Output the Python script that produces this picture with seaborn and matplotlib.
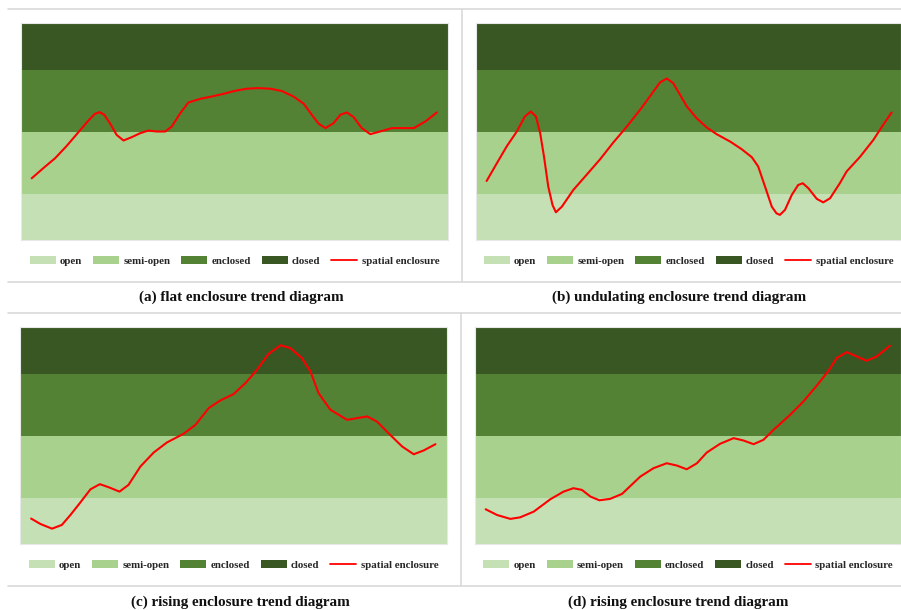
import matplotlib
matplotlib.use("Agg")
import matplotlib.pyplot as plt
from matplotlib.patches import Patch
from matplotlib.lines import Line2D
import seaborn as sns

# ---------------------------------------------------------
# 1. DATA (position along route in %, enclosure score 0-14)
# ---------------------------------------------------------
band_names = ['open', 'semi-open', 'enclosed', 'closed']
band_low = [0, 3, 7, 11]
band_high = [3, 7, 11, 14]
band_colors = ['#c5e0b4', '#a9d18e', '#548235', '#385723']

captions = ['(a) flat enclosure trend diagram',
            '(b) undulating enclosure trend diagram',
            '(c) rising enclosure trend diagram',
            '(d) rising enclosure trend diagram']

pos_a = [2.5, 5.2, 8.0, 10.7, 13.4, 15.8, 17.3, 18.4, 19.5, 20.9, 22.4, 24.0,
         25.9, 27.9, 29.8, 31.8, 33.8, 35.3, 37.3, 39.2, 42.0, 44.7, 47.4, 50.2,
         52.9, 55.6, 58.4, 61.1, 63.8, 66.2, 68.1, 69.7, 71.3, 73.2, 74.8, 76.3,
         77.9, 79.8, 81.8, 84.1, 86.9, 89.6, 92.0, 94.7, 97.4]
enc_a = [3.98, 4.63, 5.28, 6.07, 6.94, 7.71, 8.14, 8.25, 8.08, 7.50, 6.78, 6.42,
         6.63, 6.89, 7.06, 7.00, 7.00, 7.32, 8.18, 8.87, 9.11, 9.26, 9.43, 9.63,
         9.76, 9.80, 9.76, 9.61, 9.26, 8.79, 8.08, 7.50, 7.22, 7.54, 8.08, 8.23,
         7.93, 7.22, 6.83, 7.00, 7.22, 7.22, 7.22, 7.65, 8.23]

pos_b = [2.5, 4.9, 7.2, 9.6, 11.5, 12.9, 14.1, 15.1, 16.0, 17.0, 18.0, 18.8,
         20.2, 22.9, 26.0, 29.2, 32.3, 35.5, 38.6, 40.9, 43.3, 44.9, 46.4, 48.0,
         49.6, 51.9, 54.3, 56.6, 59.8, 62.5, 64.9, 66.4, 68.0, 69.6, 70.7, 71.5,
         72.7, 74.3, 75.8, 76.9, 78.2, 80.2, 81.7, 83.3, 85.6, 87.2, 90.4, 93.5,
         95.8, 97.8]
enc_b = [3.81, 4.95, 6.03, 7.00, 7.97, 8.29, 7.97, 6.89, 5.38, 3.45, 2.26, 1.79,
         2.15, 3.23, 4.20, 5.21, 6.29, 7.32, 8.40, 9.26, 10.17, 10.42, 10.12, 9.37,
         8.62, 7.86, 7.26, 6.83, 6.35, 5.86, 5.34, 4.74, 3.45, 2.15, 1.72, 1.62,
         1.94, 2.91, 3.55, 3.66, 3.34, 2.65, 2.43, 2.69, 3.66, 4.42, 5.38, 6.46,
         7.43, 8.23]

pos_c = [2.6, 4.8, 7.5, 9.8, 11.8, 14.1, 16.5, 18.7, 20.8, 23.3, 25.4, 28.2,
         31.3, 34.4, 38.3, 41.1, 44.2, 46.9, 50.0, 52.8, 55.5, 58.2, 61.0, 63.3,
         66.0, 68.0, 69.9, 72.7, 76.6, 78.9, 81.3, 83.6, 86.7, 89.5, 92.2, 94.5,
         97.3]
enc_c = [1.64, 1.29, 0.99, 1.23, 1.87, 2.67, 3.53, 3.86, 3.66, 3.38, 3.81, 5.00,
         5.90, 6.55, 7.11, 7.69, 8.77, 9.26, 9.67, 10.38, 11.24, 12.26, 12.82, 12.64,
         12.00, 11.14, 9.74, 8.66, 8.01, 8.12, 8.23, 7.90, 7.04, 6.29, 5.79, 6.03,
         6.44]

pos_d = [2.5, 5.2, 8.3, 10.6, 13.8, 17.7, 20.8, 23.1, 25.1, 27.1, 29.2, 31.7,
         34.5, 38.8, 41.9, 45.0, 47.4, 49.7, 52.1, 54.4, 57.5, 60.7, 63.0, 65.4,
         67.7, 70.1, 74.0, 77.1, 80.2, 83.0, 84.9, 87.3, 89.6, 91.9, 94.3, 97.4]
enc_d = [2.24, 1.87, 1.62, 1.72, 2.09, 2.89, 3.38, 3.60, 3.49, 3.06, 2.82, 2.91,
         3.23, 4.35, 4.89, 5.21, 5.06, 4.82, 5.21, 5.90, 6.46, 6.83, 6.68, 6.44,
         6.72, 7.37, 8.34, 9.20, 10.21, 11.18, 12.00, 12.38, 12.10, 11.82, 12.10,
         12.79]

positions = [pos_a, pos_b, pos_c, pos_d]
enclosure = [enc_a, enc_b, enc_c, enc_d]

# ---------------------------------------------------------
# 2. LAYOUT (pixel boxes of each plot area: left, top, right, bottom)
# ---------------------------------------------------------
W, H = 901, 610
boxes = [(21, 23, 448, 240), (476, 23, 901, 240),
         (20, 327, 447, 544), (475, 327, 901, 544)]
caption_xy = [(241, 297), (679, 297), (240, 602), (678, 602)]

sns.set_theme(style='white')
plt.rcParams['font.family'] = ['Liberation Serif', 'DejaVu Serif']
plt.rcParams['font.weight'] = 'bold'

fig = plt.figure(figsize=(W / 100, H / 100), dpi=100)

for i in range(4):
    l, t, r, b = boxes[i]
    ax = fig.add_axes([l / W, 1 - b / H, (r - l) / W, (b - t) / H])
    for name, lo, hi, c in zip(band_names, band_low, band_high, band_colors):
        ax.axhspan(lo, hi, color=c, lw=0)
    sns.lineplot(x=positions[i], y=enclosure[i], ax=ax, color='#ff0000',
                 linewidth=1.5, sort=False)
    ax.set_xlim(0, 100)
    ax.set_ylim(0, 14)
    ax.set_xticks([])
    ax.set_yticks([])
    ax.set_xlabel('')
    ax.set_ylabel('')
    for s in ax.spines.values():
        s.set_color('#e8e8e8')
        s.set_linewidth(0.8)

    handles = [Patch(facecolor=c, edgecolor='none') for c in band_colors]
    handles.append(Line2D([0], [0], color='#ff0000', lw=1.3))
    labels = band_names + ['spatial enclosure']
    ax.legend(handles, labels, ncol=5, loc='center',
              bbox_to_anchor=(0.5, -0.097), frameon=False,
              prop={'size': 7.8, 'weight': 'bold'},
              handlelength=2.4, handleheight=0.7, handletextpad=0.4,
              columnspacing=1.0, borderaxespad=0)

    cx, cy = caption_xy[i]
    fig.text(cx / W, 1 - cy / H, captions[i], ha='center', va='center',
             fontsize=10.9, fontweight='bold', color='#111111')

# frame lines around the sub-figures
grey = '#d9d9d9'
for y in [9, 282, 313, 586]:
    fig.add_artist(Line2D([8 / W, 1], [1 - y / H, 1 - y / H], color=grey, lw=1.2))
for x, y0, y1 in [(461.5, 9, 282), (460.7, 313, 586)]:
    fig.add_artist(Line2D([x / W, x / W], [1 - y0 / H, 1 - y1 / H], color=grey, lw=1.2))

fig.savefig('out.png', dpi=100)
